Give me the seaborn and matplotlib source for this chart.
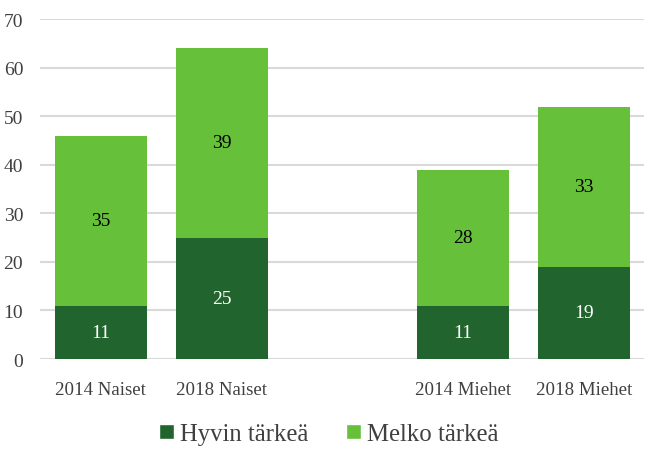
import matplotlib
matplotlib.use("Agg")
import matplotlib.pyplot as plt
import seaborn as sns
import pandas as pd
import numpy as np
from matplotlib.patches import Patch

categories = ["2014 Naiset", "2018 Naiset", " ", "2014 Miehet", "2018 Miehet"]
hyvin = [11, 25, np.nan, 11, 19]
melko = [35, 39, np.nan, 28, 33]
series_names = ["Hyvin tärkeä", "Melko tärkeä"]
yticks = [0, 10, 20, 30, 40, 50, 60, 70]

dark = "#22642E"
light = "#66C03A"

sns.set_theme(style="white")
plt.rcParams['font.family'] = ['Liberation Serif', 'DejaVu Serif']

df = pd.DataFrame({"cat": categories, "hyvin": hyvin, "melko": melko})
df["total"] = df["hyvin"] + df["melko"]

fig = plt.figure(figsize=(6.5, 4.52), dpi=100)
ax = fig.add_axes([0.0623, 0.2035, 0.929, 0.752])

sns.barplot(data=df, x="cat", y="total", order=categories, color=light,
            saturation=1, width=0.76, ax=ax, errorbar=None, zorder=2, linewidth=0)
sns.barplot(data=df, x="cat", y="hyvin", order=categories, color=dark,
            saturation=1, width=0.76, ax=ax, errorbar=None, zorder=3, linewidth=0)

for i, (h, m) in enumerate(zip(hyvin, melko)):
    if np.isnan(h):
        continue
    ax.text(i, h / 2, f"{int(h)}", ha="center", va="center", color="white", fontsize=14, zorder=4)
    ax.text(i, h + m / 2, f"{int(m)}", ha="center", va="center", color="black", fontsize=14, zorder=4)

ax.set_ylim(0, 70)
ax.set_xlim(-0.5, len(categories) - 0.5)
ax.set_yticks(yticks)
ax.set_yticklabels([str(t) for t in yticks], fontsize=14, color="#404040")
ax.tick_params(axis="x", labelsize=13.6, labelcolor="#404040", length=0, pad=16)
ax.tick_params(axis="y", length=0, pad=12.5)
ax.set_xlabel("")
ax.set_ylabel("")
ax.grid(axis="y", color="#D9D9D9", linewidth=1.5, zorder=0)
ax.set_axisbelow(True)
for s in ax.spines.values():
    s.set_visible(False)

handles = [Patch(facecolor=dark, label=series_names[0]),
           Patch(facecolor=light, label=series_names[1])]
fig.legend(handles=handles, loc="center", bbox_to_anchor=(0.506, 0.037), ncol=2,
           frameon=False, prop={"family": "Liberation Serif", "size": 17.8},
           handlelength=0.6, handleheight=0.6,
           handletextpad=0.25, columnspacing=1.5, labelcolor="#404040")

fig.savefig("out.png", dpi=100)
